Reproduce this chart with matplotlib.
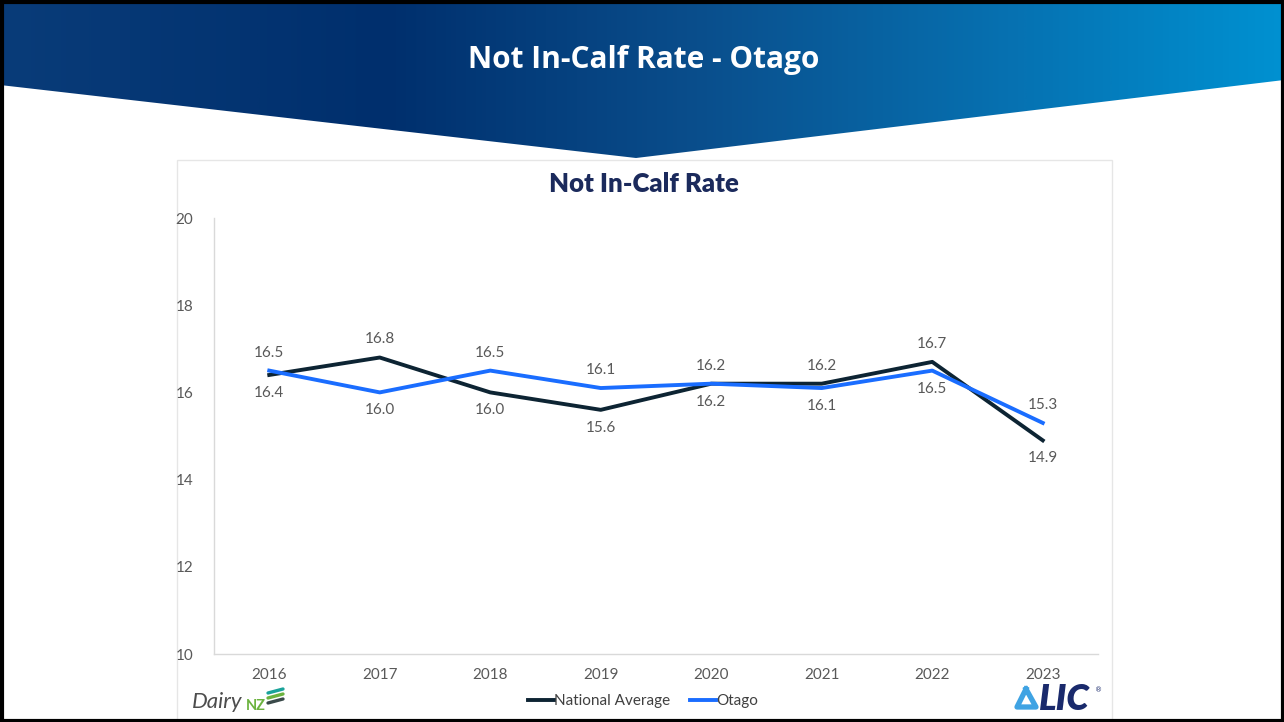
import matplotlib
matplotlib.use('Agg')
import matplotlib.pyplot as plt
import numpy as np
from matplotlib.colors import LinearSegmentedColormap
from matplotlib.patches import Polygon, Rectangle

years = ['2016', '2017', '2018', '2019', '2020', '2021', '2022', '2023']
national = [16.4, 16.8, 16.0, 15.6, 16.2, 16.2, 16.7, 14.9]
otago = [16.5, 16.0, 16.5, 16.1, 16.2, 16.1, 16.5, 15.3]
yticks = [10, 12, 14, 16, 18, 20]

W, H = 1284, 722
NAVY = '#0d2433'
BLUE = '#1a6dff'
GREY = '#595959'

fig = plt.figure(figsize=(W / 100, H / 100), dpi=100)

# page layer in pixel coordinates
bg = fig.add_axes([0, 0, 1, 1])
bg.set_xlim(0, W)
bg.set_ylim(H, 0)
bg.axis('off')

# header banner with horizontal gradient, cut into a chevron
cmap = LinearSegmentedColormap.from_list('hdr', [
    (0.0, '#093c79'), (0.3, '#002f6d'), (0.55, '#0a4f8d'),
    (0.8, '#0673b3'), (1.0, '#0091d1')])
grad = np.linspace(0, 1, 512).reshape(1, -1)
im = bg.imshow(grad, cmap=cmap, extent=[0, W, 160, 0], aspect='auto', zorder=1)
chev = Polygon([(0, 0), (W, 0), (W, 80), (636, 158), (0, 85)],
               closed=True, transform=bg.transData, facecolor='none', edgecolor='none')
bg.add_patch(chev)
im.set_clip_path(chev)
bg.text(644, 60, 'Not In-Calf Rate - Otago', color='white', fontsize=21.5,
        fontweight='bold', family='Open Sans', ha='center', va='center', zorder=3)

# white chart panel
bg.add_patch(Rectangle((177, 160), 935, 570, facecolor='white',
                       edgecolor='#e6e6e6', linewidth=1, zorder=0.5))
bg.text(644, 184, 'Not In-Calf Rate', color='#1b2a5c', fontsize=18.5,
        fontweight='heavy', family='Lato', ha='center', va='center', zorder=3)

# DairyNZ mark
bg.text(192, 702, 'Dairy', color='#4d4d4d', fontsize=16, style='italic',
        family='Lato', ha='left', va='center', zorder=3)
bg.text(246, 706, 'NZ', color='#6cb33f', fontsize=10.5, fontweight='bold',
        family='Lato', ha='left', va='center', zorder=3)
for dy, c in zip([0, 5, 10], ['#1aa39a', '#6cb33f', '#3a4a4a']):
    bg.plot([268, 283], [693 + dy, 689 + dy], color=c, lw=2.4,
            solid_capstyle='round', zorder=3)

# LIC mark
tri = np.array([(1026, 689), (1036, 707), (1017, 707), (1026, 689)])
bg.plot(tri[:, 0], tri[:, 1], color='#3fa3e3', lw=3.8, solid_joinstyle='round', zorder=3)
bg.text(1039, 700, 'LIC', color='#1a2a6c', fontsize=26, fontweight='heavy',
        style='italic', family='Lato', ha='left', va='center', zorder=3)
bg.text(1099, 690, '®', color='#1a2a6c', fontsize=5, ha='center', va='center', zorder=3)

# outer frame
bg.add_patch(Rectangle((1.5, 1.5), W - 3, H - 3, facecolor='none',
                       edgecolor='black', linewidth=3, zorder=5))

# line chart
ax = fig.add_axes([214 / W, 1 - 654 / H, (1098 - 214) / W, (654 - 218) / H])
ax.patch.set_alpha(0)
x = np.arange(len(years))
ax.plot(x, national, color=NAVY, lw=2.8, label='National Average', zorder=3)
ax.plot(x, otago, color=BLUE, lw=2.8, label='Otago', zorder=3)

for i in range(len(years)):
    hi_nat = national[i] > otago[i]
    for vals, up in ((national, hi_nat), (otago, not hi_nat)):
        ax.annotate(f'{vals[i]:.1f}', (x[i], vals[i]), xytext=(0, 13 if up else -13),
                    textcoords='offset points', ha='center', va='center',
                    fontsize=11, color=GREY, family='Lato')

ax.set_xlim(-0.5, len(years) - 0.5)
ax.set_ylim(10, 20)
ax.set_yticks(yticks)
ax.set_xticks(x)
ax.set_xticklabels(years)
ax.tick_params(length=0, labelsize=11, labelcolor=GREY, pad=10)
ax.tick_params(axis='y', pad=15)
for lab in ax.get_xticklabels() + ax.get_yticklabels():
    lab.set_family('Lato')
for s in ['top', 'right']:
    ax.spines[s].set_visible(False)
for s in ['left', 'bottom']:
    ax.spines[s].set_color('#d9d9d9')
    ax.spines[s].set_linewidth(1)

ax.legend(loc='center', bbox_to_anchor=(0.485, -0.108), ncol=2, frameon=False,
          handlelength=1.7, handletextpad=0.0, columnspacing=1.3,
          prop={'family': 'Lato', 'size': 11}, labelcolor='#404040')

fig.savefig('out.png', dpi=100)
